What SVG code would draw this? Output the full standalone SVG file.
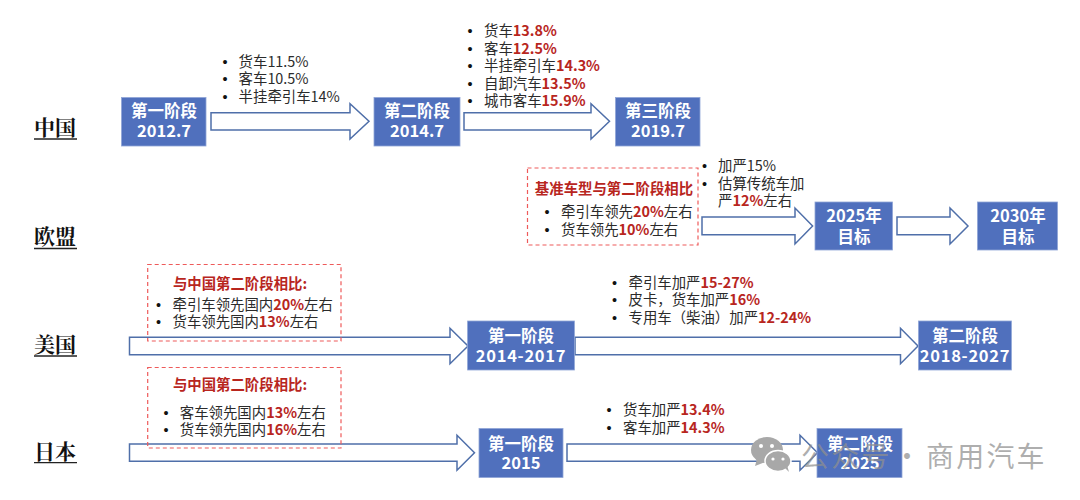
<svg xmlns="http://www.w3.org/2000/svg" width="1080" height="500" viewBox="0 0 1080 500">
<style>
text{font-family:"Noto Sans CJK SC","Noto Sans",sans-serif}
.bg{fill:#fff}
.arrow{fill:#fff;stroke:#4f6fa9;stroke-width:1.5}
.box{fill:#5070bd;stroke:#8fa5d6;stroke-width:.8}
.bt{fill:#fff;font-size:16.5px;font-weight:700;text-anchor:middle}
.ls{letter-spacing:.7px}
.t{fill:#2b2b2b;font-size:14.4px}
.b{fill:#111;font-family:"Liberation Sans",sans-serif;font-size:14.4px}
.r{fill:#b8261e;font-weight:700}
.h{fill:#b8261e;font-size:14.4px;font-weight:700;text-anchor:middle}
.dash{fill:none;stroke:#ee5a5a;stroke-width:1.2;stroke-dasharray:4 3}
.c{fill:#111;font-family:"Noto Serif CJK SC","Liberation Serif","Noto Sans CJK SC",serif;font-size:21px;font-weight:700}
.u{stroke:#222;stroke-width:1.3}
.wm{fill:#8f8f8f;fill-opacity:.72;font-size:28px;letter-spacing:2.2px}
</style>
<rect class="bg" width="1080" height="500"/>
<g id="connectors">
<polygon class="arrow" points="211,112.7 350,112.7 350,103.7 369,121.3 350,139 350,130 211,130"/>
<polygon class="arrow" points="464,112.7 591,112.7 591,103.7 609.5,121.3 591,139 591,130 464,130"/>
<polygon class="arrow" points="702,217 795,217 795,208 812.6,226 795,244 795,234.7 702,234.7"/>
<polygon class="arrow" points="897,217 950,217 950,208 968,226 950,244 950,234.7 897,234.7"/>
<polygon class="arrow" points="129.5,337.3 450,337.3 450,328.3 468,346 450,363.7 450,354.7 129.5,354.7"/>
<polygon class="arrow" points="575,337.3 900.5,337.3 900.5,328.3 918,346 900.5,363.7 900.5,354.7 575,354.7"/>
<polygon class="arrow" points="129.5,444 457,444 457,435.3 474.5,452.7 457,470.3 457,461.3 129.5,461.3"/>
<polygon class="arrow" points="567,444 800,444 800,435.3 817.5,452.7 800,470.3 800,461.3 567,461.3"/>
</g>
<g id="label-china"><text class="c" x="34" y="135">中国</text><line class="u" x1="34" y1="139" x2="77" y2="139"/></g>
<g id="label-eu"><text class="c" x="34" y="244">欧盟</text><line class="u" x1="34" y1="248.5" x2="77" y2="248.5"/></g>
<g id="label-us"><text class="c" x="34" y="352">美国</text><line class="u" x1="34" y1="356" x2="77" y2="356"/></g>
<g id="label-japan"><text class="c" x="34" y="459">日本</text><line class="u" x1="34" y1="462.7" x2="77" y2="462.7"/></g>

<g id="cn-1"><rect class="box" x="121.5" y="97.5" width="84.5" height="48.5"/><text class="bt" x="164" y="117">第一阶段</text><text class="bt" x="164" y="137">2012.7</text></g>
<g id="cn-2"><rect class="box" x="374" y="97.5" width="86" height="48.5"/><text class="bt" x="417" y="117">第二阶段</text><text class="bt" x="417" y="137">2014.7</text></g>
<g id="cn-3"><rect class="box" x="615.5" y="97.5" width="84.5" height="48.5"/><text class="bt" x="658" y="117">第三阶段</text><text class="bt" x="658" y="137">2019.7</text></g>
<g id="cn-note-1">
<text class="t" y="67"><tspan class="b" x="222.5">•</tspan><tspan x="238.6">货车11.5%</tspan></text>
<text class="t" y="84"><tspan class="b" x="222.5">•</tspan><tspan x="238.6">客车10.5%</tspan></text>
<text class="t" y="101.5"><tspan class="b" x="222.5">•</tspan><tspan x="238.6">半挂牵引车14%</tspan></text>
</g>
<g id="cn-note-2">
<text class="t" y="36"><tspan class="b" x="467.5">•</tspan><tspan x="484">货车</tspan><tspan class="r">13.8%</tspan></text>
<text class="t" y="53.5"><tspan class="b" x="467.5">•</tspan><tspan x="484">客车</tspan><tspan class="r">12.5%</tspan></text>
<text class="t" y="71"><tspan class="b" x="467.5">•</tspan><tspan x="484">半挂牵引车</tspan><tspan class="r">14.3%</tspan></text>
<text class="t" y="88.5"><tspan class="b" x="467.5">•</tspan><tspan x="484">自卸汽车</tspan><tspan class="r">13.5%</tspan></text>
<text class="t" y="105.5"><tspan class="b" x="467.5">•</tspan><tspan x="484">城市客车</tspan><tspan class="r">15.9%</tspan></text>
</g>

<g id="eu-note-1"><rect class="dash" x="527.5" y="168" width="170.5" height="77"/>
<text class="h" x="614" y="194">基准车型与第二阶段相比</text>
<text class="t" y="217"><tspan class="b" x="544.5">•</tspan><tspan x="561">牵引车领先</tspan><tspan class="r">20%</tspan><tspan>左右</tspan></text>
<text class="t" y="235"><tspan class="b" x="544.5">•</tspan><tspan x="561">货车领先</tspan><tspan class="r">10%</tspan><tspan>左右</tspan></text>
</g>
<g id="eu-note-2">
<text class="t" y="171"><tspan class="b" x="702">•</tspan><tspan x="718">加严15%</tspan></text>
<text class="t" y="188.5"><tspan class="b" x="702">•</tspan><tspan x="718">估算传统车加</tspan></text>
<text class="t" y="206"><tspan x="718">严</tspan><tspan class="r">12%</tspan><tspan>左右</tspan></text>
</g>
<g id="eu-1"><rect class="box" x="815" y="202" width="77.5" height="48"/><text class="bt" x="854" y="222">2025年</text><text class="bt" x="854" y="243">目标</text></g>
<g id="eu-2"><rect class="box" x="977.5" y="202" width="80" height="48"/><text class="bt" x="1018" y="222">2030年</text><text class="bt" x="1018" y="243">目标</text></g>

<g id="us-note-1"><rect class="dash" x="147.7" y="264.5" width="193.3" height="76.5"/>
<text class="h" x="240" y="288.5">与中国第二阶段相比:</text>
<text class="t" y="310"><tspan class="b" x="156">•</tspan><tspan x="172.5">牵引车领先国内</tspan><tspan class="r">20%</tspan><tspan>左右</tspan></text>
<text class="t" y="327"><tspan class="b" x="156">•</tspan><tspan x="172.5">货车领先国内</tspan><tspan class="r">13%</tspan><tspan>左右</tspan></text>
</g>
<g id="us-note-2">
<text class="t" y="288"><tspan class="b" x="612">•</tspan><tspan x="628.5">牵引车加严</tspan><tspan class="r">15-27%</tspan></text>
<text class="t" y="305"><tspan class="b" x="612">•</tspan><tspan x="628.5">皮卡，货车加严</tspan><tspan class="r">16%</tspan></text>
<text class="t" y="322.5"><tspan class="b" x="612">•</tspan><tspan x="628.5">专用车（柴油）加严</tspan><tspan class="r">12-24%</tspan></text>
</g>
<g id="us-1"><rect class="box" x="467.6" y="321" width="106.8" height="49"/><text class="bt" x="521" y="342">第一阶段</text><text class="bt ls" x="521" y="362">2014-2017</text></g>
<g id="us-2"><rect class="box" x="918.5" y="321" width="92.9" height="49"/><text class="bt" x="965" y="342">第二阶段</text><text class="bt ls" x="965" y="362">2018-2027</text></g>

<g id="jp-note-1"><rect class="dash" x="147.7" y="367.5" width="193.3" height="80.5"/>
<text class="h" x="240" y="389.5">与中国第二阶段相比:</text>
<text class="t" y="417.5"><tspan class="b" x="163.5">•</tspan><tspan x="179.8">客车领先国内</tspan><tspan class="r">13%</tspan><tspan>左右</tspan></text>
<text class="t" y="435"><tspan class="b" x="163.5">•</tspan><tspan x="179.8">货车领先国内</tspan><tspan class="r">16%</tspan><tspan>左右</tspan></text>
</g>
<g id="jp-note-2">
<text class="t" y="415"><tspan class="b" x="606.5">•</tspan><tspan x="623">货车加严</tspan><tspan class="r">13.4%</tspan></text>
<text class="t" y="432.5"><tspan class="b" x="606.5">•</tspan><tspan x="623">客车加严</tspan><tspan class="r">14.3%</tspan></text>
</g>
<g id="jp-1"><rect class="box" x="479" y="428.5" width="84" height="49"/><text class="bt" x="521" y="450">第一阶段</text><text class="bt" x="521" y="469">2015</text></g>
<g id="jp-2"><rect class="box" x="817" y="428.5" width="85" height="49"/><text class="bt" x="860" y="450">第二阶段</text><text class="bt" x="860" y="469">2025</text></g>

<g id="watermark">
<g fill="#a8a8a8">
<ellipse cx="767" cy="450" rx="16" ry="13"/><polygon points="757,459 755,466 765,462"/>
<ellipse cx="778" cy="461" rx="13" ry="10.5" stroke="#fff" stroke-width="1.5"/><polygon points="785,468 789,472 787,465"/>
</g>
<g fill="#fff"><circle cx="761" cy="446" r="2"/><circle cx="772" cy="446" r="2"/><circle cx="773" cy="459" r="1.6"/><circle cx="783" cy="459" r="1.6"/></g>
<text class="wm" x="801" y="467">公众号</text>
<text class="wm" x="893" y="467">·</text>
<text class="wm" x="926" y="467">商用汽车</text>
</g>
</svg>
